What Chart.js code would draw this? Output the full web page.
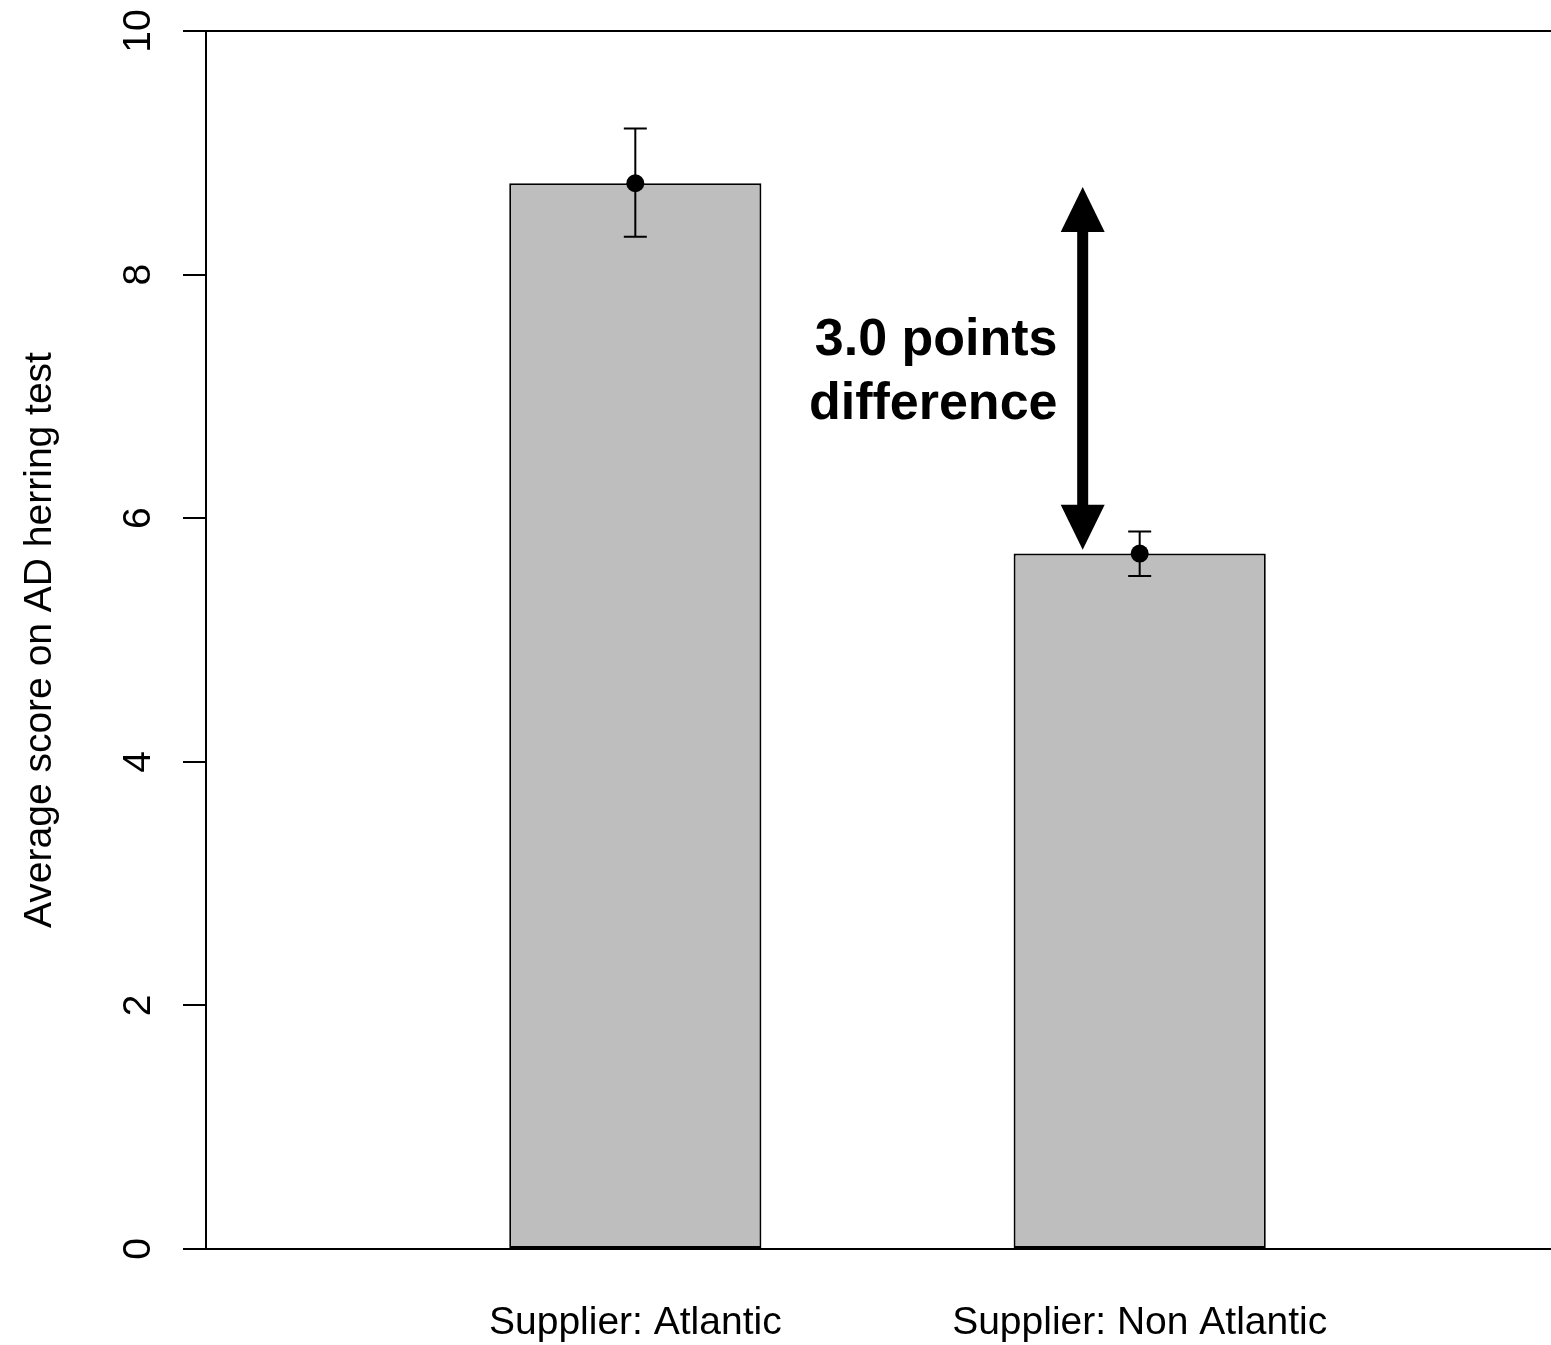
<!DOCTYPE html>
<html>
<head>
<meta charset="utf-8">
<script src="https://cdn.jsdelivr.net/npm/chart.js@4/dist/chart.umd.min.js"></script>
<style>
  html, body { margin: 0; background: #fff; overflow: hidden; }
  #wrap { width: 1561px; height: 1345px; }
</style>
</head>
<body>
<div id="wrap"><canvas id="barChart" width="1561" height="1345"></canvas></div>
<script>
// data
const categories = ["Supplier: Atlantic", "Supplier: Non Atlantic"];
const means = [8.75, 5.71];
const upper = [9.20, 5.89];
const lower = [8.31, 5.525];
const yTicks = [0, 2, 4, 6, 8, 10];

// annotation: arrow between the two means and its label
const arrowX = 1.887;
const arrowFrom = 5.74;
const arrowTo = 8.72;
const noteX = 1.837;
const noteLines = ["3.0 points", "difference"];
const noteY = [7.46, 6.93];

const X_MIN = 0.1488;
const X_MAX = 2.8175;

Chart.defaults.font.family = "'Liberation Sans', Arial, Helvetica, sans-serif";
Chart.defaults.color = "#000";

const barPoints = categories.map((c, i) => ({ x: i + 1, y: means[i] }));

// error bars, drawn right after the bars so the mean dots stay on top
const errorBars = {
  id: "errorBars",
  afterDatasetDraw(chart, args) {
    if (args.index !== 0) return;
    const { ctx, scales: { x, y } } = chart;
    ctx.save();
    ctx.strokeStyle = "#000";
    ctx.lineWidth = 2;
    categories.forEach((c, i) => {
      const px = x.getPixelForValue(i + 1);
      const top = y.getPixelForValue(upper[i]);
      const bot = y.getPixelForValue(lower[i]);
      ctx.beginPath();
      ctx.moveTo(px, top); ctx.lineTo(px, bot);
      ctx.moveTo(px - 11.5, top); ctx.lineTo(px + 11.5, top);
      ctx.moveTo(px - 11.5, bot); ctx.lineTo(px + 11.5, bot);
      ctx.stroke();
    });
    ctx.restore();
  }
};

const arrowNote = {
  id: "arrowNote",
  afterDraw(chart) {
    const { ctx, scales: { x, y } } = chart;
    const px = x.getPixelForValue(arrowX);
    const yTop = y.getPixelForValue(arrowTo);
    const yBot = y.getPixelForValue(arrowFrom);
    const head = 45, half = 22, shaft = 5.5;
    ctx.save();
    ctx.fillStyle = "#000";
    ctx.fillRect(px - shaft, yTop + head - 1, shaft * 2, (yBot - head) - (yTop + head) + 2);
    ctx.beginPath();
    ctx.moveTo(px, yTop);
    ctx.lineTo(px + half, yTop + head);
    ctx.lineTo(px - half, yTop + head);
    ctx.closePath();
    ctx.fill();
    ctx.beginPath();
    ctx.moveTo(px, yBot);
    ctx.lineTo(px + half, yBot - head);
    ctx.lineTo(px - half, yBot - head);
    ctx.closePath();
    ctx.fill();

    ctx.font = "bold 52px 'Liberation Sans', Arial, sans-serif";
    ctx.textAlign = "right";
    ctx.textBaseline = "middle";
    noteLines.forEach((t, i) => {
      ctx.fillText(t, x.getPixelForValue(noteX), y.getPixelForValue(noteY[i]));
    });
    ctx.restore();
  }
};

new Chart(document.getElementById("barChart"), {
  type: "bar",
  data: {
    datasets: [
      {
        type: "bar",
        data: barPoints,
        backgroundColor: "#bebebe",
        borderColor: "#000",
        borderWidth: 2,
        borderSkipped: false,
        categoryPercentage: 1,
        barPercentage: 0.5,
        order: 1
      },
      {
        type: "line",
        data: barPoints,
        showLine: false,
        pointRadius: 9,
        pointBackgroundColor: "#000",
        pointBorderColor: "#000",
        pointBorderWidth: 0,
        order: 0
      }
    ]
  },
  options: {
    responsive: false,
    animation: false,
    layout: { padding: { top: 31, right: 0, left: 0, bottom: 0 } },
    plugins: { legend: { display: false }, tooltip: { enabled: false } },
    scales: {
      x: {
        type: "linear",
        offset: false,
        min: X_MIN,
        max: X_MAX,
        afterBuildTicks: (s) => { s.ticks = categories.map((c, i) => ({ value: i + 1 })); },
        afterFit: (s) => { s.height = 96; s.paddingLeft = 0; s.paddingRight = 0; },
        grid: { display: false, drawTicks: false, offset: false },
        border: { display: false },
        ticks: {
          padding: 51,
          font: { size: 39 },
          callback: (v) => categories[v - 1]
        }
      },
      y: {
        min: 0,
        max: 10,
        afterBuildTicks: (s) => { s.ticks = yTicks.map(v => ({ value: v })); },
        afterFit: (s) => { s.width = 206; s.paddingTop = 0; s.paddingBottom = 0; },
        grid: {
          lineWidth: 2,
          tickLength: 23,
          tickColor: "#000",
          color: (c) => (c.tick && (c.tick.value === 0 || c.tick.value === 10)) ? "#000" : "rgba(0,0,0,0)"
        },
        border: { display: true, color: "#000", width: 2 },
        ticks: {
          minRotation: 90,
          maxRotation: 90,
          crossAlign: "center",
          padding: 22,
          font: { size: 39 }
        },
        title: {
          display: true,
          text: "Average score on AD herring test",
          font: { size: 39 },
          padding: { top: 17, bottom: 0 }
        }
      }
    }
  },
  plugins: [errorBars, arrowNote]
});
</script>
</body>
</html>
